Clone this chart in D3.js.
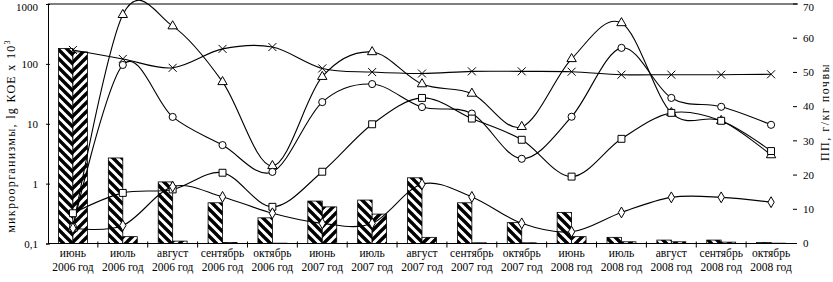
<!DOCTYPE html>
<html><head><meta charset="utf-8">
<script src="https://cdn.jsdelivr.net/npm/d3@7/dist/d3.min.js"></script>
<style>
body{margin:0;background:#fff}
svg{display:block}
text{font-family:"Liberation Serif","Times New Roman",serif;fill:#000}
</style>
</head><body>
<svg id="c" width="833" height="282"></svg>
<script>
// ---- data ----
const monthLabels = ["июнь","июль","август","сентябрь","октябрь","июнь","июль","август","сентябрь","октябрь","июнь","июль","август","сентябрь","октябрь"];
const yearLabels = ["2006 год","2006 год","2006 год","2006 год","2006 год","2007 год","2007 год","2007 год","2007 год","2007 год","2008 год","2008 год","2008 год","2008 год","2008 год"];
const leftTicks = [0.1, 1, 10, 100, 1000];
const leftTickLabels = ["0,1", "1", "10", "100", "1000"];
const rightTicks = [0, 10, 20, 30, 40, 50, 60, 70];

// bars (right axis, 0-70)
const barsA = [57, 25, 18, 11.9, 7.5, 12.4, 12.7, 19.2, 11.9, 6.1, 9.1, 1.8, 1.0, 1.0, 0.3];
const barsB = [56, 2.0, 0.7, 0.3, 0.1, 10.7, 8.6, 1.8, 0.2, 0.2, 2.0, 0.5, 0.5, 0.4, 0.1];

// lines (left log axis)
const seriesCross    = [171, 121, 86, 178, 191, 84, 73, 69, 75, 75, 74, 66, 66, 66, 67];
const seriesTriangle = [0.18, 660, 427, 50, 1.98, 61, 158, 46, 32, 8.9, 121, 482, 15.2, 11.2, 3.0];
const seriesCircle   = [0.19, 96, 13.0, 4.4, 1.57, 23, 46, 19, 14.8, 2.6, 13.1, 185, 27, 19.2, 9.6];
const seriesSquare   = [0.32, 0.70, 0.80, 1.52, 0.41, 1.58, 9.8, 27, 12.2, 5.4, 1.31, 5.6, 15.2, 11.2, 3.5];
const seriesDiamond  = [0.18, 0.20, 0.89, 0.60, 0.32, 0.217, 0.217, 0.98, 0.60, 0.217, 0.157, 0.33, 0.59, 0.59, 0.49];

// ---- layout ----
const svg = d3.select("#c");
const L = 48, R = 796, T = 4, B = 243.5;
const idx = d3.range(monthLabels.length);
const x = d3.scaleBand().domain(idx).range([L, R]).paddingInner(0.42).paddingOuter(0.21);
const xs = d3.scaleBand().domain(["a","b"]).range([0, x.bandwidth()]);
const step = x.step();
const cx = i => x(i) + x.bandwidth()/2;
const yL = d3.scaleLog().domain([0.1, 1000]).range([B, T]);
const yR = d3.scaleLinear().domain([0, 70]).range([B, T]);

// patterns
const defs = svg.append("defs");
function hatch(id, d){
  const p = defs.append("pattern").attr("id", id).attr("patternUnits","userSpaceOnUse")
    .attr("width", 9).attr("height", 9);
  p.append("rect").attr("width",9).attr("height",9).attr("fill","#fff");
  p.append("path").attr("d", d).attr("stroke","#000").attr("stroke-width",3.4).attr("fill","none");
}
hatch("hDown", "M-1,-1 L10,10 M-1,8 L1,10 M8,-1 L10,1");
hatch("hUp", "M-1,10 L10,-1 M-1,1 L1,-1 M8,10 L10,8");

// bars
const gb = svg.append("g");
[[barsA,"a","hDown"],[barsB,"b","hUp"]].forEach(([vals,key,pat])=>{
  gb.selectAll("rect."+key).data(vals).enter().append("rect")
    .attr("class", key)
    .attr("x", (d,i)=> x(i) + xs(key))
    .attr("width", xs.bandwidth())
    .attr("y", d=> yR(d))
    .attr("height", d=> B - yR(d))
    .attr("fill", `url(#${pat})`)
    .attr("stroke", "#000").attr("stroke-width", 0.8);
});

// axes frame
svg.append("line").attr("x1",L).attr("x2",R+2).attr("y1",T).attr("y2",T).attr("stroke","#000");
svg.append("line").attr("x1",L).attr("x2",R+1).attr("y1",B).attr("y2",B).attr("stroke","#000");

// left axis
const gl = svg.append("g").attr("transform",`translate(${L},0)`)
  .call(d3.axisLeft(yL).tickValues(leftTicks).tickFormat((d,i)=>leftTickLabels[i]).tickSize(2).tickPadding(8));
gl.select(".domain").attr("stroke","#000");
gl.selectAll(".tick line").attr("x1",2).attr("stroke","#000");
gl.selectAll(".tick text").attr("font-size",11).attr("font-family","Liberation Serif")
  .attr("dy", d => d === 1000 ? "0.62em" : "0.32em");

// right axis ticks (no spine)
const gr = svg.append("g");
gr.selectAll("line").data(rightTicks).enter().append("line")
  .attr("x1", R-3).attr("x2", R+1).attr("y1", d=>yR(d)).attr("y2", d=>yR(d)).attr("stroke","#000");
gr.selectAll("text").data(rightTicks).enter().append("text")
  .attr("x", R+7).attr("y", d=>yR(d)).attr("dy", d => d === 70 ? "0.62em" : "0.35em")
  .attr("font-size",11).text(d=>d);

// category ticks
svg.append("g").selectAll("line").data(d3.range(1, idx.length)).enter().append("line")
  .attr("x1", k=> L + step*k).attr("x2", k=> L + step*k)
  .attr("y1", B-2).attr("y2", B+4).attr("stroke","#000");

// category labels
const gx = svg.append("g");
gx.selectAll("text.m").data(monthLabels).enter().append("text").attr("class","m")
  .attr("x",(d,i)=>cx(i)).attr("y",257).attr("text-anchor","middle").attr("font-size",11.5).text(d=>d);
gx.selectAll("text.yr").data(yearLabels).enter().append("text").attr("class","yr")
  .attr("x",(d,i)=>cx(i)).attr("y",271).attr("text-anchor","middle").attr("font-size",11.5).text(d=>d);

// lines
const line = d3.line().x((d,i)=>cx(i)).y(d=>yL(d)).curve(d3.curveCardinal.tension(0));
const gLines = svg.append("g");
const all = [
  [seriesCross,"cross"],[seriesTriangle,"tri"],[seriesCircle,"circ"],[seriesSquare,"sq"],[seriesDiamond,"dia"]
];
all.forEach(([vals])=>{
  gLines.append("path").datum(vals).attr("d", line).attr("fill","none").attr("stroke","#000").attr("stroke-width",1.1);
});
const sym = {
  tri: d3.symbol().type(d3.symbolTriangle).size(38),
  circ: d3.symbol().type(d3.symbolCircle).size(40),
  sq: d3.symbol().type(d3.symbolSquare).size(48),
  dia: d3.symbol().type(d3.symbolDiamond).size(34)
};
all.forEach(([vals,type])=>{
  const g = gLines.append("g");
  if(type==="cross"){
    g.selectAll("path").data(vals).enter().append("path")
      .attr("transform",(d,i)=>`translate(${cx(i)},${yL(d)})`)
      .attr("d","M-4,-4L4,4M-4,4L4,-4").attr("stroke","#000").attr("stroke-width",1).attr("fill","none");
  } else {
    g.selectAll("path").data(vals).enter().append("path")
      .attr("transform",(d,i)=>`translate(${cx(i)},${yL(d)})`)
      .attr("d", sym[type]()).attr("fill","#fff").attr("stroke","#000").attr("stroke-width",1);
  }
});

// axis titles
const lt = svg.append("text").attr("transform","translate(15,136) rotate(-90)")
  .attr("text-anchor","middle").attr("font-size",12).attr("letter-spacing",1.3);
lt.append("tspan").text("микроорганизмы, lg КОЕ х 10");
lt.append("tspan").attr("font-size",8).attr("dy",-5).text("3");
svg.append("text").attr("transform","translate(829,112) rotate(-90)")
  .attr("text-anchor","middle").attr("font-size",12).attr("letter-spacing",1.5).text("ПП, г/кг почвы");
</script>
</body></html>
